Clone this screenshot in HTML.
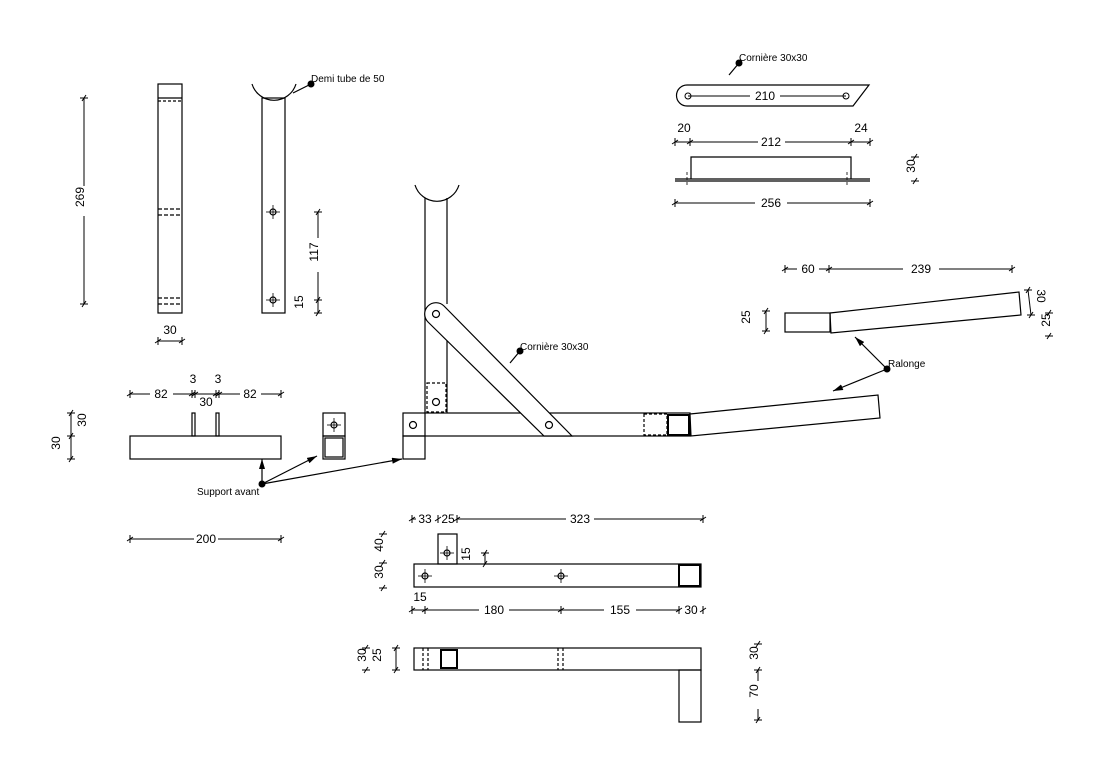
<!DOCTYPE html>
<html><head><meta charset="utf-8"><style>
html,body{margin:0;padding:0;background:#fff;}
svg{display:block;}
text{font-family:"Liberation Sans",sans-serif;font-size:12px;fill:#000;}
.s{font-size:10px;}
</style></head><body>
<svg width="1114" height="771" viewBox="0 0 1114 771" xmlns="http://www.w3.org/2000/svg">
<defs>
<g id="t"><line x1="0" y1="-4" x2="0" y2="4" stroke="#000" stroke-width="1"/><line x1="-3" y1="2" x2="3" y2="-2" stroke="#000" stroke-width="1"/></g>
<g id="tv"><line x1="-4" y1="0" x2="4" y2="0" stroke="#000" stroke-width="1"/><line x1="-2" y1="3" x2="2" y2="-3" stroke="#000" stroke-width="1"/></g>
<g id="h"><circle r="3" fill="none" stroke="#000" stroke-width="1.2"/><line x1="-7" y1="0" x2="7" y2="0" stroke="#000" stroke-width=".8"/><line x1="0" y1="-7" x2="0" y2="7" stroke="#000" stroke-width=".8"/></g>
<marker id="a" markerWidth="10" markerHeight="6" refX="10" refY="3" orient="auto" markerUnits="userSpaceOnUse"><path d="M0,0 L10,3 L0,6 Z" fill="#000"/></marker>
</defs>
<g fill="none" stroke="#000" stroke-width="1.2">
<rect x="158" y="84" width="24" height="229"/>
<line x1="158" y1="98" x2="182" y2="98"/>
<line x1="158" y1="101" x2="182" y2="101" stroke-dasharray="3,2"/>
<line x1="158" y1="209" x2="182" y2="209" stroke-dasharray="4,2"/>
<line x1="158" y1="215" x2="182" y2="215" stroke-dasharray="4,2"/>
<line x1="158" y1="298" x2="182" y2="298" stroke-dasharray="4,2"/>
<line x1="158" y1="304" x2="182" y2="304" stroke-dasharray="4,2"/>
<rect x="262" y="98" width="23" height="215"/>
<path d="M252,84 A23,23 0 0 0 296,84"/>
<line x1="425" y1="198" x2="425" y2="413"/>
<line x1="447" y1="198" x2="447" y2="304"/>
<line x1="447" y1="320" x2="447" y2="413"/>
<path d="M415,185 A23,23 0 0 0 459,185"/>
<rect x="427" y="383" width="19" height="29" stroke-dasharray="3,2"/>
<circle cx="436" cy="402" r="3.5"/>
<rect x="403" y="413" width="287" height="23"/>
<line x1="425" y1="413" x2="425" y2="436"/>
<circle cx="413" cy="425" r="3.5"/>
<rect x="403" y="436" width="22" height="23"/>
<rect x="644" y="414" width="23" height="21" stroke-dasharray="3,2"/>
<rect x="668" y="415" width="21" height="20" stroke-width="2"/>
<polygon points="690,414 878,395 880,418 691,436" fill="#fff"/>
<path d="M444,306 L572,436 L544,436 L428,322 A11,11 0 0 1 444,306 Z" fill="#fff"/>
<circle cx="436" cy="314" r="3.5"/>
<circle cx="549" cy="425" r="3.5"/>
<rect x="130" y="436" width="151" height="23"/>
<rect x="192" y="413" width="3" height="23"/>
<rect x="216" y="413" width="3" height="23"/>
<rect x="323" y="413" width="22" height="23"/>
<rect x="323" y="436" width="22" height="23"/>
<rect x="325" y="438" width="18" height="19"/>
<path d="M687,85 L869,85 L853,106 L687,106 A10.5,10.5 0 0 1 687,85 Z"/>
<line x1="675" y1="179" x2="870" y2="179"/>
<line x1="675" y1="181" x2="870" y2="181"/>
<polyline points="691,179 691,157 851,157 851,179"/>
<line x1="687" y1="172" x2="687" y2="186" stroke-dasharray="3,2" stroke-width=".8"/>
<line x1="847" y1="172" x2="847" y2="186" stroke-dasharray="3,2" stroke-width=".8"/>
<rect x="785" y="313" width="45" height="19"/>
<polygon points="830,313 1019,292 1021,315 831,333"/>
<rect x="414" y="564" width="287" height="23"/>
<rect x="438" y="534" width="19" height="30"/>
<rect x="679" y="565" width="21" height="21" stroke-width="2"/>
<rect x="414" y="648" width="287" height="22"/>
<rect x="679" y="670" width="22" height="52"/>
<rect x="441" y="650" width="16" height="18" stroke-width="2"/>
<line x1="423" y1="648" x2="423" y2="670" stroke-dasharray="3,2"/>
<line x1="428" y1="648" x2="428" y2="670" stroke-dasharray="3,2"/>
<line x1="558" y1="648" x2="558" y2="670" stroke-dasharray="3,2"/>
<line x1="563" y1="648" x2="563" y2="670" stroke-dasharray="3,2"/>
</g>
<use href="#h" x="273" y="212"/><use href="#h" x="273" y="300"/>
<use href="#h" x="334" y="425"/>
<use href="#h" x="447" y="553"/><use href="#h" x="425" y="576"/><use href="#h" x="561" y="576"/>
<circle cx="688" cy="96" r="3" fill="none" stroke="#000"/><circle cx="846" cy="96" r="3" fill="none" stroke="#000"/>

<g stroke="#000" stroke-width="1">
<line x1="84" y1="98" x2="84" y2="186"/><line x1="84" y1="216" x2="84" y2="304"/>
<line x1="158" y1="341" x2="182" y2="341"/>
<line x1="318" y1="212" x2="318" y2="238"/><line x1="318" y1="272" x2="318" y2="313"/>
<line x1="688" y1="96" x2="750" y2="96"/><line x1="780" y1="96" x2="846" y2="96"/>
<line x1="675" y1="142" x2="758" y2="142"/><line x1="785" y1="142" x2="870" y2="142"/>
<line x1="675" y1="203" x2="755" y2="203"/><line x1="787" y1="203" x2="870" y2="203"/>
<line x1="785" y1="269" x2="797" y2="269"/><line x1="819" y1="269" x2="903" y2="269"/><line x1="939" y1="269" x2="1012" y2="269"/>
<line x1="766" y1="311" x2="766" y2="331"/>
<line x1="1028" y1="290" x2="1031" y2="315"/>
<line x1="130" y1="394" x2="150" y2="394"/><line x1="173" y1="394" x2="240" y2="394"/><line x1="261" y1="394" x2="281" y2="394"/>
<line x1="71" y1="413" x2="71" y2="459"/>
<line x1="130" y1="539" x2="194" y2="539"/><line x1="218" y1="539" x2="281" y2="539"/>
<line x1="412" y1="519" x2="416" y2="519"/><line x1="457" y1="519" x2="566" y2="519"/><line x1="594" y1="519" x2="703" y2="519"/>
<line x1="485" y1="553" x2="485" y2="564"/>
<line x1="412" y1="610" x2="479" y2="610"/><line x1="509" y1="610" x2="604" y2="610"/><line x1="636" y1="610" x2="680" y2="610"/>
<line x1="396" y1="648" x2="396" y2="670"/>
<line x1="758" y1="670" x2="758" y2="681"/><line x1="758" y1="709" x2="758" y2="720"/>
</g>
<g>
<use href="#tv" x="84" y="98"/><use href="#tv" x="84" y="304"/>
<use href="#t" x="158" y="341"/><use href="#t" x="182" y="341"/>
<use href="#tv" x="318" y="212"/><use href="#tv" x="318" y="300"/><use href="#tv" x="318" y="313"/>
<use href="#t" x="675" y="142"/><use href="#t" x="690" y="142"/><use href="#t" x="851" y="142"/><use href="#t" x="870" y="142"/>
<use href="#t" x="675" y="203"/><use href="#t" x="870" y="203"/>
<use href="#tv" x="915" y="157"/><use href="#tv" x="915" y="181"/>
<use href="#t" x="785" y="269"/><use href="#t" x="829" y="269"/><use href="#t" x="1012" y="269"/>
<use href="#tv" x="766" y="311"/><use href="#tv" x="766" y="331"/>
<use href="#tv" x="1028" y="290"/><use href="#tv" x="1031" y="315"/>
<use href="#tv" x="1049" y="313"/><use href="#tv" x="1049" y="336"/>
<use href="#t" x="130" y="394"/><use href="#t" x="192" y="394"/><use href="#t" x="195" y="394"/><use href="#t" x="216" y="394"/><use href="#t" x="219" y="394"/><use href="#t" x="281" y="394"/>
<use href="#tv" x="71" y="413"/><use href="#tv" x="71" y="436"/><use href="#tv" x="71" y="459"/>
<use href="#t" x="130" y="539"/><use href="#t" x="281" y="539"/>
<use href="#t" x="412" y="519"/><use href="#t" x="438" y="519"/><use href="#t" x="457" y="519"/><use href="#t" x="703" y="519"/>
<use href="#tv" x="383" y="534"/><use href="#tv" x="383" y="563"/><use href="#tv" x="383" y="588"/>
<use href="#tv" x="485" y="553"/><use href="#tv" x="485" y="564"/>
<use href="#t" x="412" y="610"/><use href="#t" x="425" y="610"/><use href="#t" x="561" y="610"/><use href="#t" x="679" y="610"/><use href="#t" x="703" y="610"/>
<use href="#tv" x="366" y="648"/><use href="#tv" x="366" y="670"/>
<use href="#tv" x="396" y="648"/><use href="#tv" x="396" y="670"/>
<use href="#tv" x="758" y="644"/><use href="#tv" x="758" y="670"/><use href="#tv" x="758" y="720"/>
</g>

<g stroke="#000" stroke-width="1.2" fill="none">
<line x1="311" y1="84" x2="293" y2="93"/>
<line x1="520" y1="351" x2="510" y2="363"/>
<line x1="739" y1="63" x2="729" y2="75"/>
<line x1="262" y1="484" x2="262" y2="459" marker-end="url(#a)"/>
<line x1="262" y1="484" x2="317" y2="456" marker-end="url(#a)"/>
<line x1="262" y1="484" x2="402" y2="459" marker-end="url(#a)"/>
<line x1="887" y1="369" x2="855" y2="337" marker-end="url(#a)"/>
<line x1="887" y1="369" x2="833" y2="391" marker-end="url(#a)"/>
</g>
<g fill="#000">
<circle cx="311" cy="84" r="3.5"/><circle cx="520" cy="351" r="3.5"/><circle cx="739" cy="63" r="3.5"/>
<circle cx="262" cy="484" r="3.5"/><circle cx="887" cy="369" r="3.5"/>
</g>

<text class="s" x="311" y="82">Demi tube de 50</text>
<text class="s" x="520" y="350">Cornière 30x30</text>
<text class="s" x="739" y="61">Cornière 30x30</text>
<text class="s" x="197" y="495">Support avant</text>
<text class="s" x="888" y="367">Ralonge</text>

<text x="88" y="201" text-anchor="middle" transform="rotate(-90 84 201)">269</text>
<text x="170" y="334" text-anchor="middle">30</text>
<text x="322" y="256" text-anchor="middle" transform="rotate(-90 318 256)">117</text>
<text x="307" y="306" text-anchor="middle" transform="rotate(-90 303 306)">15</text>
<text x="765" y="100" text-anchor="middle">210</text>
<text x="684" y="132" text-anchor="middle">20</text>
<text x="861" y="132" text-anchor="middle">24</text>
<text x="771" y="146" text-anchor="middle">212</text>
<text x="771" y="207" text-anchor="middle">256</text>
<text x="919" y="170" text-anchor="middle" transform="rotate(-90 915 170)">30</text>
<text x="808" y="273" text-anchor="middle">60</text>
<text x="921" y="273" text-anchor="middle">239</text>
<text x="754" y="321" text-anchor="middle" transform="rotate(-90 750 321)">25</text>
<text x="1033" y="300" text-anchor="middle" transform="rotate(90 1037 300)">30</text>
<text x="1054" y="324" text-anchor="middle" transform="rotate(-90 1050 324)">25</text>
<text x="161" y="398" text-anchor="middle">82</text>
<text x="250" y="398" text-anchor="middle">82</text>
<text x="193" y="383" text-anchor="middle">3</text>
<text x="218" y="383" text-anchor="middle">3</text>
<text x="206" y="406" text-anchor="middle">30</text>
<text x="90" y="424" text-anchor="middle" transform="rotate(-90 86 424)">30</text>
<text x="64" y="447" text-anchor="middle" transform="rotate(-90 60 447)">30</text>
<text x="206" y="543" text-anchor="middle">200</text>
<text x="425" y="523" text-anchor="middle">33</text>
<text x="448" y="523" text-anchor="middle">25</text>
<text x="580" y="523" text-anchor="middle">323</text>
<text x="387" y="549" text-anchor="middle" transform="rotate(-90 383 549)">40</text>
<text x="387" y="576" text-anchor="middle" transform="rotate(-90 383 576)">30</text>
<text x="474" y="558" text-anchor="middle" transform="rotate(-90 470 558)">15</text>
<text x="420" y="601" text-anchor="middle">15</text>
<text x="494" y="614" text-anchor="middle">180</text>
<text x="620" y="614" text-anchor="middle">155</text>
<text x="691" y="614" text-anchor="middle">30</text>
<text x="370" y="659" text-anchor="middle" transform="rotate(-90 366 659)">30</text>
<text x="385" y="659" text-anchor="middle" transform="rotate(-90 381 659)">25</text>
<text x="762" y="657" text-anchor="middle" transform="rotate(-90 758 657)">30</text>
<text x="762" y="695" text-anchor="middle" transform="rotate(-90 758 695)">70</text>
</svg>
</body></html>
